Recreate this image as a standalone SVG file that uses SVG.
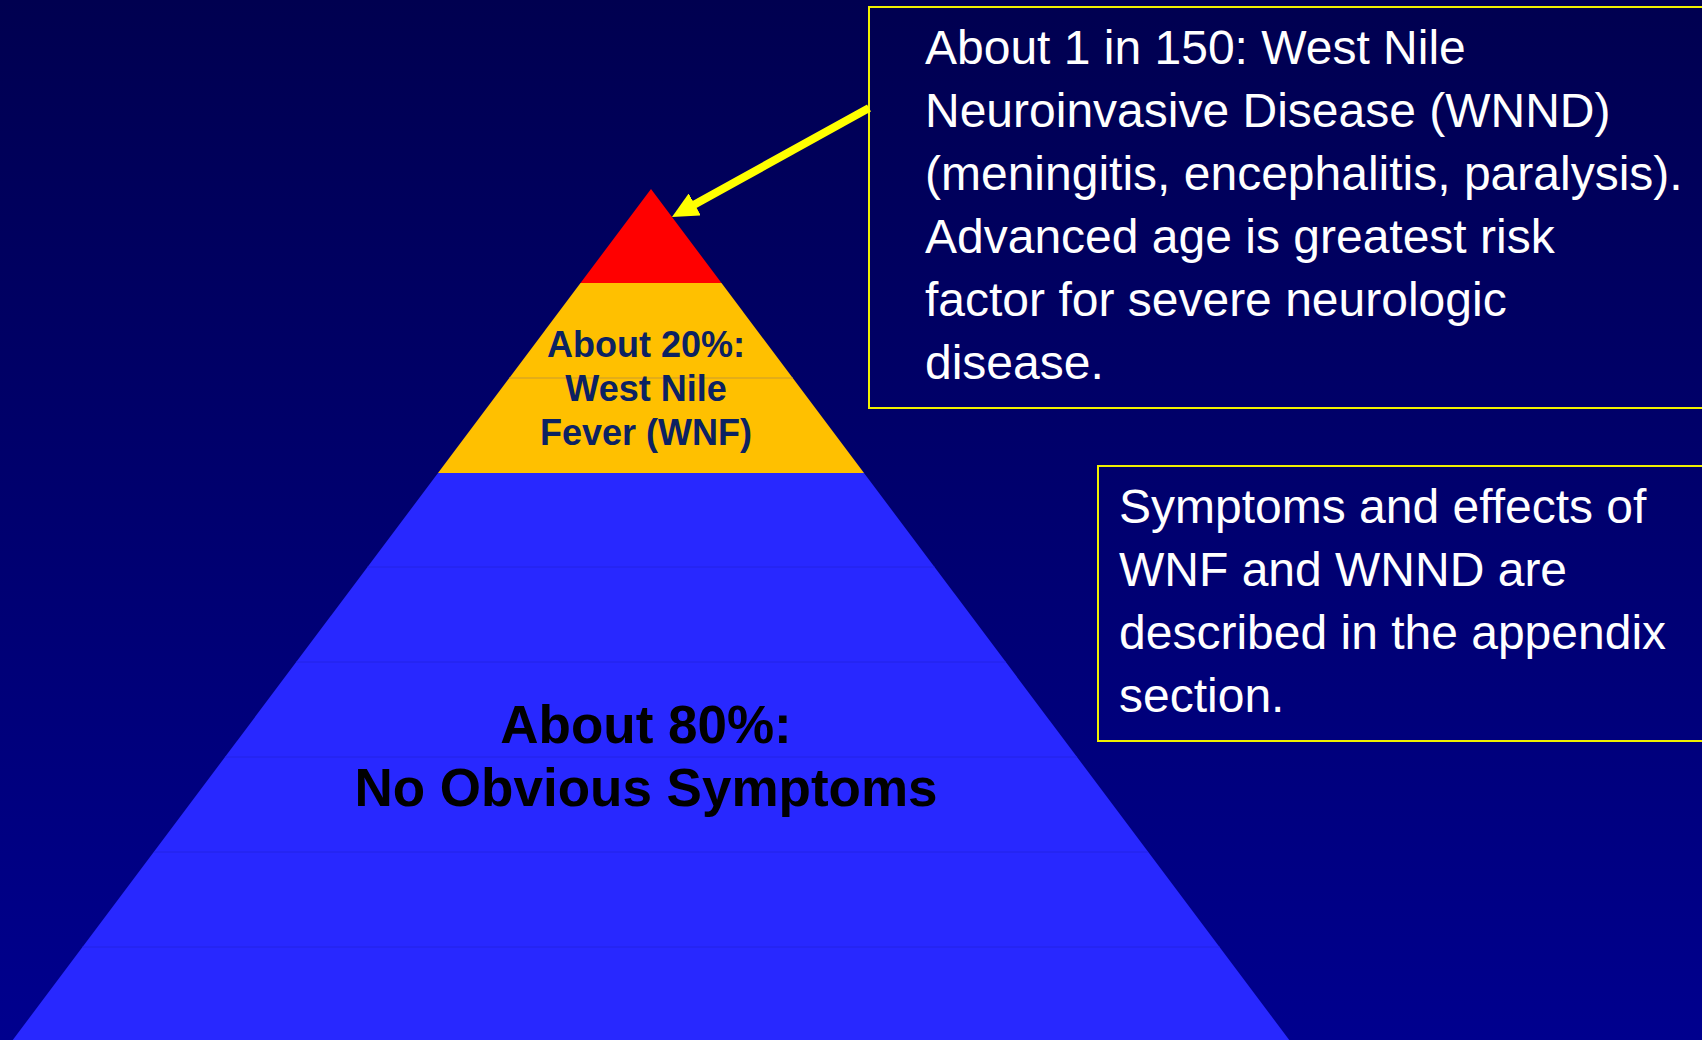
<svg xmlns="http://www.w3.org/2000/svg" width="1702" height="1040" viewBox="0 0 1702 1040">
  <defs>
    <linearGradient id="bg" x1="0" y1="0" x2="0" y2="1">
      <stop offset="0" stop-color="#000050"/>
      <stop offset="1" stop-color="#00008e"/>
    </linearGradient>
    <marker id="arrowhead" viewBox="0 0 26 25" refX="6" refY="12.5" markerWidth="26" markerHeight="25" markerUnits="userSpaceOnUse" orient="auto">
      <path d="M0,0 L26,12.5 L0,25 Z" fill="#ffff00"/>
    </marker>
    <style>
      .box { fill: none; stroke: #f0f000; stroke-width: 2; }
      .boxtext { font-family: "Liberation Sans", Arial, sans-serif; font-size: 48px; fill: #ffffff; }
      .wnf { font-family: "Liberation Sans", Arial, sans-serif; font-size: 36px; font-weight: bold; fill: #0c2262; text-anchor: middle; }
      .asym { font-family: "Liberation Sans", Arial, sans-serif; font-size: 53px; font-weight: bold; fill: #000000; text-anchor: middle; }
      .bandline { stroke-width: 1; }
    </style>
  </defs>

  <rect x="0" y="0" width="1702" height="1040" fill="url(#bg)"/>

  <g id="pyramid-blue">
    <polygon points="438,473 864,473 1290,1041 12,1041" fill="#2828ff"/>
    <g stroke="#2222e6" class="bandline">
      <line x1="367.5" y1="567" x2="934.5" y2="567"/>
      <line x1="296.25" y1="662" x2="1005.75" y2="662"/>
      <line x1="225" y1="757" x2="1077" y2="757"/>
      <line x1="154" y1="852" x2="1148" y2="852"/>
      <line x1="82.5" y1="947" x2="1219.5" y2="947"/>
    </g>
    <text class="asym" x="646" y="743">About 80%:</text>
    <text class="asym" x="646" y="806">No Obvious Symptoms</text>
  </g>

  <g id="pyramid-yellow">
    <polygon points="580.5,283 721.5,283 864,473 438,473" fill="#ffc000"/>
    <line x1="509" y1="378" x2="793" y2="378" stroke="#c99a30" class="bandline"/>
    <text class="wnf" x="646" y="357">About 20%:</text>
    <text class="wnf" x="646" y="401">West Nile</text>
    <text class="wnf" x="646" y="445">Fever (WNF)</text>
  </g>

  <g id="pyramid-red">
    <polygon points="651,189 721.5,283 580.5,283" fill="#ff0000"/>
  </g>

  <g id="box-wnnd">
    <rect class="box" x="869" y="7" width="840" height="401"/>
    <text class="boxtext" x="925" y="64">About 1 in 150: West Nile</text>
    <text class="boxtext" x="925" y="127">Neuroinvasive Disease (WNND)</text>
    <text class="boxtext" x="925" y="190">(meningitis, encephalitis, paralysis).</text>
    <text class="boxtext" x="925" y="253">Advanced age is greatest risk</text>
    <text class="boxtext" x="925" y="316">factor for severe neurologic</text>
    <text class="boxtext" x="925" y="379">disease.</text>
  </g>

  <g id="box-appendix">
    <rect class="box" x="1098" y="466" width="610" height="275"/>
    <text class="boxtext" x="1119" y="523">Symptoms and effects of</text>
    <text class="boxtext" x="1119" y="586">WNF and WNND are</text>
    <text class="boxtext" x="1119" y="649">described in the appendix</text>
    <text class="boxtext" x="1119" y="712">section.</text>
  </g>

  <g id="connectors">
    <line x1="869" y1="108" x2="689.5" y2="207.3" stroke="#ffff00" stroke-width="8" marker-end="url(#arrowhead)"/>
  </g>
</svg>
